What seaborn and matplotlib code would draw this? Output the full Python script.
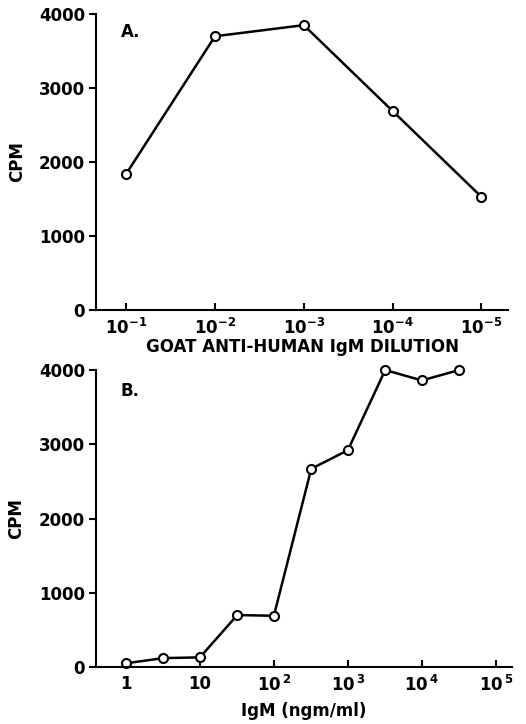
import matplotlib
matplotlib.use("Agg")
import matplotlib.pyplot as plt
import seaborn as sns
import numpy as np
import pandas as pd

# Panel A data
dilution_exp = [1, 2, 3, 4, 5]          # dilution 10^-n
dilution_labels = ["10$^{-1}$", "10$^{-2}$", "10$^{-3}$", "10$^{-4}$", "10$^{-5}$"]
cpm_a = [1840, 3700, 3850, 2690, 1530]

# Panel B data
igm_conc = [1, 3.2, 10, 32, 100, 320, 1000, 3200, 10000, 32000]
cpm_b = [50, 120, 130, 700, 690, 2670, 2920, 4000, 3860, 4000]
igm_ticks = [1, 10, 100, 1000, 10000, 100000]
igm_labels = ["1", "10", "10$^{\\,2}$", "10$^{\\,3}$", "10$^{\\,4}$", "10$^{\\,5}$"]

sns.set_style("ticks")
plt.rcParams["font.family"] = ["DejaVu Sans"]
plt.rcParams["mathtext.default"] = "regular"
for k in ("text.color", "axes.labelcolor", "xtick.color", "ytick.color",
          "axes.edgecolor"):
    plt.rcParams[k] = "black"

fig = plt.figure(figsize=(5.26, 7.24), dpi=100)
axA = fig.add_axes([0.1825, 0.5718, 0.7833, 0.4088])
axB = fig.add_axes([0.1825, 0.0787, 0.791, 0.4102])

dfA = pd.DataFrame({"x": dilution_exp, "cpm": cpm_a})
dfB = pd.DataFrame({"x": igm_conc, "cpm": cpm_b})

style = dict(color="black", linewidth=1.8, marker="o", markersize=6.5,
             markerfacecolor="white", markeredgecolor="black", markeredgewidth=1.5,
             clip_on=False)

sns.lineplot(data=dfA, x="x", y="cpm", ax=axA, **style)
sns.lineplot(data=dfB, x="x", y="cpm", ax=axB, **style)

axB.set_xscale("log")

for ax in (axA, axB):
    ax.set_ylim(0, 4000)
    ax.set_yticks([0, 1000, 2000, 3000, 4000])
    ax.set_yticklabels(["0", "1000", "2000", "3000", "4000"])
    for s in ("top", "right"):
        ax.spines[s].set_visible(False)
    for s in ("left", "bottom"):
        ax.spines[s].set_linewidth(1.5)
    ax.tick_params(axis="y", direction="out", length=5, width=1.5, pad=3,
                   labelsize=12)
    ax.tick_params(axis="x", direction="in", length=5, width=1.5, pad=6,
                   labelsize=12)
    ax.tick_params(axis="x", which="minor", length=0)
    ax.set_ylabel("CPM", fontsize=12, fontweight="bold")
    ax.yaxis.set_label_coords(-0.17, 0.5)
    for lbl in ax.get_xticklabels() + ax.get_yticklabels():
        lbl.set_fontweight("bold")

axA.set_xlim(0.66, 5.30)
axA.set_xticks(dilution_exp)
axA.set_xticklabels(dilution_labels, fontweight="bold")
axA.set_xlabel("GOAT ANTI-HUMAN IgM DILUTION", fontsize=12, fontweight="bold",
               labelpad=0)
axA.text(0.06, 0.97, "A.", transform=axA.transAxes, fontsize=12,
         fontweight="bold", va="top")

axB.set_xlim(10 ** -0.405, 10 ** 5.22)
axB.set_xticks(igm_ticks)
axB.set_xticklabels(igm_labels, fontweight="bold")
axB.set_xlabel("IgM (ngm/ml)", fontsize=12, fontweight="bold", labelpad=5)
axB.text(0.06, 0.96, "B.", transform=axB.transAxes, fontsize=12,
         fontweight="bold", va="top")

fig.savefig("out.png", dpi=100)
